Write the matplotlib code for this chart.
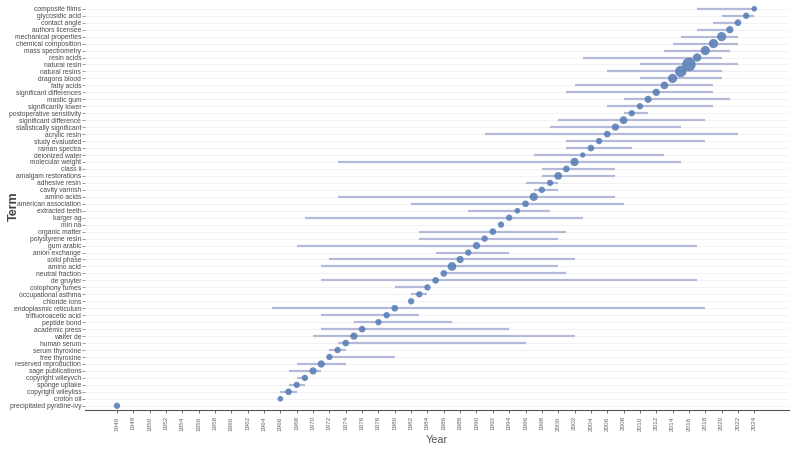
import numpy as np
import matplotlib as mpl
mpl.use("Agg")
import matplotlib.pyplot as plt

# Data (top to bottom as shown in the chart)

terms = ["composite films", "glycosidic acid", "contact angle", "authors licensee",
         "mechanical properties", "chemical composition", "mass spectrometry",
         "resin acids", "natural resin", "natural resins", "dragons blood",
         "fatty acids", "significant differences", "mastic gum",
         "significantly lower", "postoperative sensitivity", "significant difference",
         "statistically significant", "acrylic resin", "study evaluated",
         "raman spectra", "deionized water", "molecular weight", "class ii",
         "amalgam restorations", "adhesive resin", "cavity varnish", "amino acids",
         "american association", "extracted teeth", "karger ag", "min na",
         "organic matter", "polystyrene resin", "gum arabic", "anion exchange",
         "solid phase", "amino acid", "neutral fraction", "de gruyter",
         "colophony fumes", "occupational asthma", "chloride ions",
         "endoplasmic reticulum", "trifluoroacetic acid", "peptide bond",
         "academic press", "walter de", "human serum", "serum thyroxine",
         "free thyroxine", "reserved reproduction", "sage publications",
         "copyright wileyvch", "sponge uptake", "copyright wileyliss",
         "croton oil", "precipitated pyridine-ivy"]

year_q1 = [2017, 2020, 2019, 2017, 2015, 2014, 2013, 2003, 2010, 2006, 2010,
           2002, 2001, 2008, 2006, 2008, 2000, 1999, 1991, 2001, 2001, 1997,
           1973, 1998, 1998, 1996, 1997, 1973, 1982, 1989, 1969, 1993, 1983,
           1983, 1968, 1985, 1972, 1971, 1986, 1971, 1980, 1982, 1982, 1965,
           1971, 1975, 1971, 1970, 1973, 1972, 1972, 1968, 1967, 1968, 1967,
           1966, 1966, 1946]

year_med = [2024, 2023, 2022, 2021, 2020, 2019, 2018, 2017, 2016, 2015, 2014,
            2013, 2012, 2011, 2010, 2009, 2008, 2007, 2006, 2005, 2004, 2003,
            2002, 2001, 2000, 1999, 1998, 1997, 1996, 1995, 1994, 1993, 1992,
            1991, 1990, 1989, 1988, 1987, 1986, 1985, 1984, 1983, 1982, 1980,
            1979, 1978, 1976, 1975, 1974, 1973, 1972, 1971, 1970, 1969, 1968,
            1967, 1966, 1946]

year_q3 = [2024, 2024, 2022, 2021, 2022, 2022, 2021, 2020, 2022, 2020, 2020,
           2019, 2019, 2021, 2019, 2011, 2018, 2015, 2022, 2018, 2009, 2013,
           2015, 2007, 2007, 2000, 2000, 2007, 2008, 1999, 2003, 1993, 2001,
           2000, 2017, 1994, 2002, 2000, 2001, 2017, 1984, 1984, 1982, 2018,
           1983, 1987, 1994, 2002, 1996, 1974, 1980, 1974, 1971, 1969.3, 1969,
           1968, 1966, 1946]

freq = [8, 10, 11, 13, 21, 21, 21, 17, 45, 32, 21, 15, 13, 13, 10, 10, 15, 13,
        11, 10, 11, 7, 17, 11, 15, 10, 10, 17, 11, 8, 10, 10, 11, 10, 13, 10,
        13, 19, 11, 11, 10, 10, 10, 11, 10, 10, 11, 13, 11, 10, 10, 13, 13, 10,
        10, 11, 8, 10]

years = np.arange(1946, 2025, 2)

# Plot

n = len(terms)
ypos = np.arange(n)[::-1]

fig = plt.figure(figsize=(7.95, 4.49), dpi=100)
ax = fig.add_axes([0.107, 0.087, 0.885, 0.909])

for y in ypos:
    ax.axhline(y, color='#efefef', lw=0.6, zorder=0)

ax.hlines(ypos, year_q1, year_q3, color='#b4b9d9', lw=1.6, zorder=1)
ax.scatter(year_med, ypos, s=np.array(freq)*2.1, color='#5b80b6',
           alpha=0.9, edgecolors='none', zorder=2)

ax.set_xlim(1942.1, 2028.2)
ax.set_ylim(-0.6, n - 0.0)

ax.set_yticks(ypos)
ax.set_yticklabels(terms, family='Liberation Sans', fontsize=4.9, color='#4a4a4a')
ax.set_xticks(years)
ax.set_xticklabels([str(y) for y in years], rotation=90,
                   family='Liberation Sans', fontsize=4.6, color='#666666')
ax.tick_params(axis='y', length=2, width=0.6, color='#888888', pad=0.8)
ax.tick_params(axis='x', length=2.5, width=0.6, color='#555555', pad=2)

for side in ['top', 'right', 'left']:
    ax.spines[side].set_visible(False)
ax.spines['bottom'].set_color('#555555')
ax.spines['bottom'].set_linewidth(0.8)

ax.set_xlabel("Year", family='Liberation Sans', fontsize=7.8,
              color='#555555', labelpad=3)
fig.text(0.018, 0.54, "Term", rotation=90, ha='center', va='center',
         family='Liberation Sans', fontsize=9, fontweight='bold', color='#444444')

fig.savefig("out.png", dpi=100)
